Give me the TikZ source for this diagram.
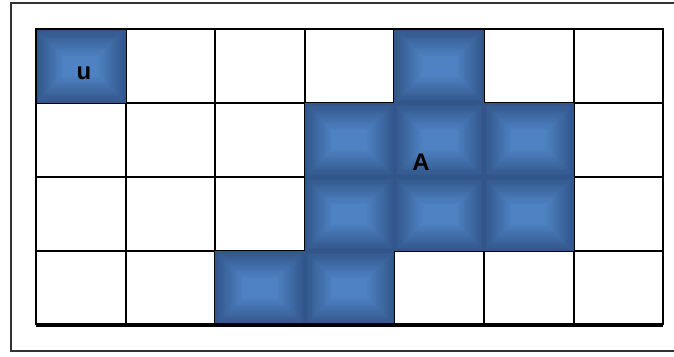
\documentclass[tikz,border=0pt]{standalone}
\usepackage{fontspec}
\setmainfont{Liberation Sans}
\usepackage{tikz}
\usetikzlibrary{positioning}

\definecolor{celldark}{RGB}{50,86,138}
\definecolor{celllight}{RGB}{78,130,194}

% one shaded cell of the region, #1 = column, #2 = row
\newcommand{\bluecell}[2]{%
  \foreach \k in {0,...,16} {
    \pgfmathsetmacro{\mixv}{\k*6.25}
    \fill[celllight!\mixv!celldark]
      ({\gx+#1*\cw+\k*1.7}, {\gy+#2*\ch+\k*1.7})
      rectangle ({\gx+(#1+1)*\cw-\k*1.7}, {\gy+(#2+1)*\ch-\k*1.7});
  }%
}

\begin{document}
\begin{tikzpicture}[x=0.025cm, y=-0.025cm, font=\fontsize{17}{20}\selectfont\bfseries]
  % The grid
  \def\gx{36}
  \def\gy{29}
  \def\cw{89.6}
  \def\ch{74}
  \useasboundingbox (0,0) rectangle (674,356);
  \clip (0,0) rectangle (674,356);

  % Outer frame (runs off the right edge)
  \draw[line width=1.3pt, black!80] (11,3) rectangle (690,351);

  % Cell lines
  \foreach \i in {1,...,6}
    \draw[line width=1.4pt] ({\gx+\i*\cw}, \gy) -- ({\gx+\i*\cw}, {\gy+4*\ch});
  \foreach \j in {1,...,3}
    \draw[line width=1.4pt] (\gx, {\gy+\j*\ch}) -- ({\gx+7*\cw}, {\gy+\j*\ch});

  % Cell u
  \bluecell{0}{0}
  % Region A
  \bluecell{4}{0}
  \bluecell{3}{1}
  \bluecell{4}{1}
  \bluecell{5}{1}
  \bluecell{3}{2}
  \bluecell{4}{2}
  \bluecell{5}{2}
  \bluecell{2}{3}
  \bluecell{3}{3}

  % Grid border
  \draw[line width=1.4pt] (\gx, {\gy+4*\ch}) -- (\gx, \gy) -- ({\gx+7*\cw}, \gy) -- ({\gx+7*\cw}, {\gy+4*\ch});
  \draw[line width=2.2pt] (\gx, {\gy+4*\ch}) -- ({\gx+7*\cw}, {\gy+4*\ch});

  % Labels
  \node (lblu) at (84, 73) {u};
  \node (lblA) at (421, 162) {A};
\end{tikzpicture}
\end{document}
